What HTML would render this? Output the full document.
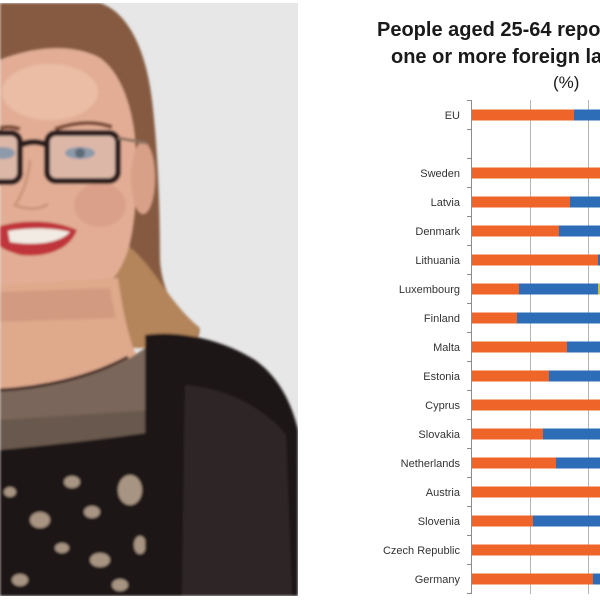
<!DOCTYPE html>
<html>
<head>
<meta charset="utf-8">
<style>
  html, body { margin:0; padding:0; background:#ffffff; }
  body { width:600px; height:600px; overflow:hidden; }
  svg { display:block; }
  text { font-family: "Liberation Sans", Arial, sans-serif; }
</style>
</head>
<body>
<svg width="600" height="600" viewBox="0 0 600 600" xmlns="http://www.w3.org/2000/svg">
  <defs>
    <clipPath id="photo"><rect x="0" y="3" width="298" height="593"/></clipPath>
    <filter id="soft" x="-5%" y="-5%" width="110%" height="110%"><feGaussianBlur stdDeviation="1.2"/></filter>
  </defs>

  <!-- ================= PHOTO ================= -->
  <g clip-path="url(#photo)">
    <rect x="0" y="3" width="298" height="593" fill="#e7e7e7"/>
    <g filter="url(#soft)">
      <!-- hair back -->
      <path d="M0,3 L100,3 C128,12 146,50 152,100 C158,150 160,210 160,260 C162,295 180,318 200,330 L195,348 L130,348 L0,340 Z" fill="#855a3f"/>
      <path d="M118,240 C150,255 165,300 200,328 L192,348 L108,348 Z" fill="#b4845a"/>
      <!-- face -->
      <path d="M0,60 C30,48 70,42 100,58 C120,72 132,105 135,140 C138,180 136,220 128,250 C120,275 105,292 85,298 L0,300 Z" fill="#e2ad94"/>
      <ellipse cx="50" cy="92" rx="48" ry="28" fill="#eec3ab" opacity="0.7"/>
      <ellipse cx="100" cy="205" rx="26" ry="22" fill="#d99a85" opacity="0.7"/>
      <!-- ear -->
      <ellipse cx="143" cy="178" rx="12" ry="36" fill="#d9a088"/>
      <!-- neck -->
      <path d="M0,285 L118,278 C124,318 130,345 140,362 L146,398 L0,398 Z" fill="#dfa98c"/>
      <path d="M0,292 L110,288 C112,300 114,310 116,318 L0,322 Z" fill="#c9937a" opacity="0.6"/>
      <!-- eyebrows -->
      <path d="M55,129 C75,122 95,121 112,127" stroke="#7a4a35" stroke-width="4" fill="none"/>
      <path d="M0,128 C8,126 14,127 20,129" stroke="#7a4a35" stroke-width="4" fill="none"/>
      <!-- glasses -->
      <rect x="47" y="133" width="71" height="48" rx="9" fill="#dcb7a8" stroke="#2b1b1b" stroke-width="6"/>
      <rect x="-45" y="133" width="65" height="49" rx="9" fill="#dcb7a8" stroke="#2b1b1b" stroke-width="6"/>
      <path d="M20,145 C30,141 38,141 47,145" stroke="#2b1b1b" stroke-width="6" fill="none"/>
      <line x1="118" y1="138" x2="146" y2="143" stroke="#8a7262" stroke-width="3"/>
      <ellipse cx="80" cy="153" rx="15" ry="6" fill="#8d9aaa"/>
      <ellipse cx="80" cy="153" rx="5" ry="5" fill="#5e6a78"/>
      <ellipse cx="3" cy="153" rx="12" ry="6" fill="#8d9aaa"/>
      <!-- nose shading -->
      <path d="M30,160 C28,180 22,195 15,205 C25,210 40,210 48,204" stroke="#c48b74" stroke-width="3" fill="none" opacity="0.7"/>
      <!-- mouth -->
      <path d="M0,226 C25,219 55,220 77,230 C70,250 45,258 20,255 C10,252 2,249 0,246 Z" fill="#c0363a"/>
      <path d="M8,231 C30,227 55,228 70,232 C60,243 35,246 10,242 Z" fill="#f1ebe3"/>
      <!-- sheer top -->
      <path d="M0,391 C40,389 90,380 130,358 L150,345 L152,445 L0,452 Z" fill="#7a665a"/>
      <path d="M0,420 L152,410 L152,448 L0,455 Z" fill="#5e4e45" opacity="0.6"/>
      <path d="M0,390 C40,388 90,378 128,357" stroke="#3a2520" stroke-width="3" fill="none"/>
      <!-- lace -->
      <path d="M0,450 C40,446 100,440 152,432 L156,596 L0,596 Z" fill="#1c1818"/>
      <g fill="#a89482">
        <ellipse cx="40" cy="520" rx="10" ry="8"/>
        <ellipse cx="72" cy="482" rx="8" ry="6"/>
        <ellipse cx="130" cy="490" rx="12" ry="15"/>
        <ellipse cx="100" cy="560" rx="10" ry="7"/>
        <ellipse cx="20" cy="580" rx="8" ry="6"/>
        <ellipse cx="62" cy="548" rx="7" ry="5"/>
        <ellipse cx="140" cy="545" rx="6" ry="9"/>
        <ellipse cx="10" cy="492" rx="6" ry="5"/>
        <ellipse cx="92" cy="512" rx="8" ry="6"/>
        <ellipse cx="120" cy="585" rx="8" ry="6"/>
      </g>
      <!-- jacket -->
      <path d="M145,335 C175,330 220,338 255,360 C280,378 292,405 298,430 L298,596 L145,596 Z" fill="#1a1717"/>
      <path d="M185,385 C222,388 262,405 286,435 L292,596 L182,596 Z" fill="#2e2826"/>
    </g>
  </g>

  <!-- ================= CHART ================= -->
  <g fill="#1a1a1a" font-weight="bold" font-size="20">
    <text x="377" y="36">People aged 25-64 reporting to know</text>
    <text x="391" y="63">one or more foreign languages</text>
  </g>
  <text x="553" y="88" font-size="17" fill="#1a1a1a">(%)</text>

  <!-- gridlines -->
  <g stroke="#b5b5b5" stroke-width="1">
    <line x1="530.5" y1="100" x2="530.5" y2="594"/>
    <line x1="588.5" y1="100" x2="588.5" y2="594"/>
  </g>
  <!-- axis -->
  <g stroke="#8c8c8c" stroke-width="1">
    <line x1="471.5" y1="100" x2="471.5" y2="594"/>
    <line x1="467" y1="100.5" x2="471.5" y2="100.5"/>
    <line x1="467" y1="129.5" x2="471.5" y2="129.5"/>
    <line x1="467" y1="158.5" x2="471.5" y2="158.5"/>
    <line x1="467" y1="187.5" x2="471.5" y2="187.5"/>
    <line x1="467" y1="216.5" x2="471.5" y2="216.5"/>
    <line x1="467" y1="245.5" x2="471.5" y2="245.5"/>
    <line x1="467" y1="274.5" x2="471.5" y2="274.5"/>
    <line x1="467" y1="303.5" x2="471.5" y2="303.5"/>
    <line x1="467" y1="332.5" x2="471.5" y2="332.5"/>
    <line x1="467" y1="361.5" x2="471.5" y2="361.5"/>
    <line x1="467" y1="390.5" x2="471.5" y2="390.5"/>
    <line x1="467" y1="419.5" x2="471.5" y2="419.5"/>
    <line x1="467" y1="448.5" x2="471.5" y2="448.5"/>
    <line x1="467" y1="477.5" x2="471.5" y2="477.5"/>
    <line x1="467" y1="506.5" x2="471.5" y2="506.5"/>
    <line x1="467" y1="535.5" x2="471.5" y2="535.5"/>
    <line x1="467" y1="564.5" x2="471.5" y2="564.5"/>
    <line x1="467" y1="593.5" x2="471.5" y2="593.5"/>
  </g>

  <!-- bars: blue base, orange over -->
  <g fill="#2d6db8">
    <rect x="472" y="109.5" width="130" height="11"/>
    <rect x="472" y="196.5" width="130" height="11"/>
    <rect x="472" y="225.5" width="130" height="11"/>
    <rect x="472" y="254.5" width="130" height="11"/>
    <rect x="472" y="283.5" width="126" height="11"/>
    <rect x="472" y="312.5" width="130" height="11"/>
    <rect x="472" y="341.5" width="130" height="11"/>
    <rect x="472" y="370.5" width="130" height="11"/>
    <rect x="472" y="428.5" width="130" height="11"/>
    <rect x="472" y="457.5" width="130" height="11"/>
    <rect x="472" y="515.5" width="130" height="11"/>
    <rect x="472" y="573.5" width="130" height="11"/>
  </g>
  <rect x="598" y="283.5" width="4" height="11" fill="#c9c24a"/>
  <g fill="#ef6529">
    <rect x="472" y="109.5" width="102" height="11"/>
    <rect x="472" y="167.5" width="130" height="11"/>
    <rect x="472" y="196.5" width="98" height="11"/>
    <rect x="472" y="225.5" width="87" height="11"/>
    <rect x="472" y="254.5" width="126" height="11"/>
    <rect x="472" y="283.5" width="47" height="11"/>
    <rect x="472" y="312.5" width="45" height="11"/>
    <rect x="472" y="341.5" width="95" height="11"/>
    <rect x="472" y="370.5" width="77" height="11"/>
    <rect x="472" y="399.5" width="130" height="11"/>
    <rect x="472" y="428.5" width="71" height="11"/>
    <rect x="472" y="457.5" width="84" height="11"/>
    <rect x="472" y="486.5" width="130" height="11"/>
    <rect x="472" y="515.5" width="61" height="11"/>
    <rect x="472" y="544.5" width="130" height="11"/>
    <rect x="472" y="573.5" width="121" height="11"/>
  </g>

  <!-- labels -->
  <g font-size="11" fill="#333333" text-anchor="end">
    <text x="460" y="119">EU</text>
    <text x="460" y="177">Sweden</text>
    <text x="460" y="206">Latvia</text>
    <text x="460" y="235">Denmark</text>
    <text x="460" y="264">Lithuania</text>
    <text x="460" y="293">Luxembourg</text>
    <text x="460" y="322">Finland</text>
    <text x="460" y="351">Malta</text>
    <text x="460" y="380">Estonia</text>
    <text x="460" y="409">Cyprus</text>
    <text x="460" y="438">Slovakia</text>
    <text x="460" y="467">Netherlands</text>
    <text x="460" y="496">Austria</text>
    <text x="460" y="525">Slovenia</text>
    <text x="460" y="554">Czech Republic</text>
    <text x="460" y="583">Germany</text>
  </g>
</svg>
</body>
</html>
